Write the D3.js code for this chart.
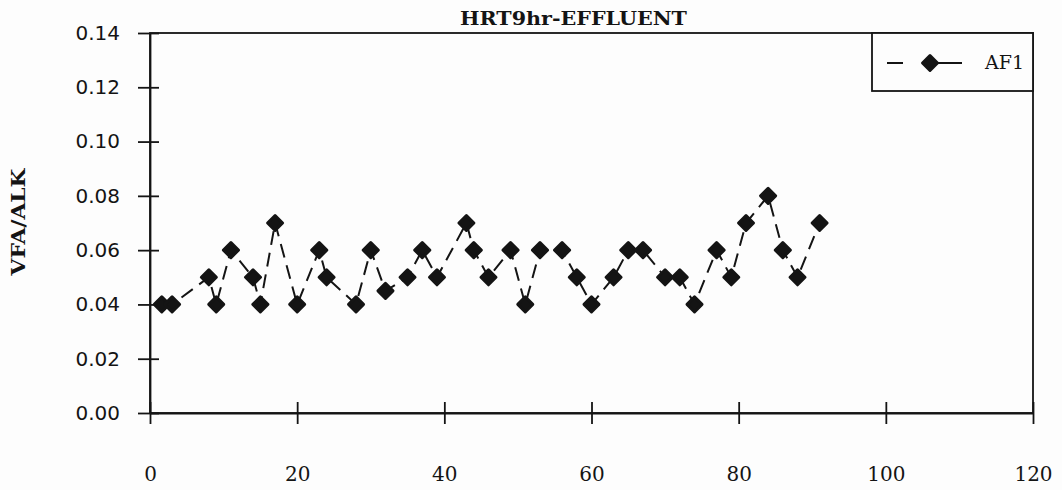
<!DOCTYPE html>
<html>
<head>
<meta charset="utf-8">
<script src="https://cdn.jsdelivr.net/npm/d3@7"></script>
<style>
  html, body { margin: 0; padding: 0; background: #fdfdfd; }
  svg { display: block; }
</style>
</head>
<body>
<svg id="chart" width="1062" height="490"></svg>
<script>
// Effluent VFA/alkalinity ratio, HRT 9 hr, reactor AF1
const days = [1.6, 3, 8, 9, 11, 14, 15, 17, 20, 23, 24, 28, 30, 32, 35, 37, 39,
              43, 44, 46, 49, 51, 53, 56, 58, 60, 63, 65, 67, 70, 72, 74, 77, 79,
              81, 84, 86, 88, 91];
const ratioAF1 = [0.04, 0.04, 0.05, 0.04, 0.06, 0.05, 0.04, 0.07, 0.04, 0.06, 0.05,
                  0.04, 0.06, 0.045, 0.05, 0.06, 0.05, 0.07, 0.06, 0.05, 0.06, 0.04,
                  0.06, 0.06, 0.05, 0.04, 0.05, 0.06, 0.06, 0.05, 0.05, 0.04, 0.06,
                  0.05, 0.07, 0.08, 0.06, 0.05, 0.07];
const xTicks = [0, 20, 40, 60, 80, 100, 120];
const yTicks = [0, 0.02, 0.04, 0.06, 0.08, 0.10, 0.12, 0.14];
const seriesName = "AF1";
const titleText = "HRT9hr-EFFLUENT";
const yLabelText = "VFA/ALK";

const svg = d3.select("#chart");
const plot = { left: 150, right: 1033, top: 33, bottom: 413 };

const x = d3.scaleLinear().domain([0, 120]).range([plot.left, plot.right]);
const y = d3.scaleLinear().domain([0, 0.14]).range([plot.bottom, plot.top]);

const ink = "#141414";

// plot frame
svg.append("rect")
  .attr("x", plot.left).attr("y", plot.top)
  .attr("width", plot.right - plot.left).attr("height", plot.bottom - plot.top)
  .attr("fill", "none").attr("stroke", ink).attr("stroke-width", 1.8);

// y axis: ticks cross the axis line
const yAxis = d3.axisLeft(y).tickValues(yTicks)
  .tickFormat(d3.format(".2f")).tickSizeInner(12).tickSizeOuter(0).tickPadding(18);
svg.append("g").attr("transform", `translate(${plot.left},0)`).call(yAxis)
  .call(g => g.select(".domain").attr("stroke", ink).attr("stroke-width", 1.8))
  .call(g => g.selectAll(".tick line").attr("x1", 9).attr("stroke", ink).attr("stroke-width", 1.8))
  .call(g => g.selectAll(".tick text")
    .attr("fill", ink).attr("font-family", "DejaVu Sans").attr("font-size", 20));

// x axis
const xAxis = d3.axisBottom(x).tickValues(xTicks)
  .tickSizeInner(11).tickSizeOuter(0).tickPadding(43);
svg.append("g").attr("transform", `translate(0,${plot.bottom})`).call(xAxis)
  .call(g => g.select(".domain").attr("stroke", ink).attr("stroke-width", 2))
  .call(g => g.selectAll(".tick line").attr("y1", -11).attr("stroke", ink).attr("stroke-width", 1.8))
  .call(g => g.selectAll(".tick text")
    .attr("fill", ink).attr("font-family", "DejaVu Serif").attr("font-size", 20));

// title
svg.append("text")
  .attr("x", 573.5).attr("y", 25)
  .attr("text-anchor", "middle")
  .attr("font-family", "DejaVu Serif").attr("font-weight", "bold").attr("font-size", 19)
  .attr("textLength", 227).attr("lengthAdjust", "spacingAndGlyphs")
  .attr("fill", ink)
  .text(titleText);

// y label
svg.append("text")
  .attr("transform", "translate(25,222) rotate(-90)")
  .attr("text-anchor", "middle")
  .attr("font-family", "DejaVu Serif").attr("font-weight", "bold").attr("font-size", 18)
  .attr("textLength", 107).attr("lengthAdjust", "spacingAndGlyphs")
  .attr("fill", ink)
  .text(yLabelText);

// series line
const pts = days.map((d, i) => [d, ratioAF1[i]]);
const line = d3.line().x(d => x(d[0])).y(d => y(d[1]));
svg.append("path")
  .datum(pts)
  .attr("d", line)
  .attr("fill", "none").attr("stroke", ink).attr("stroke-width", 2)
  .attr("stroke-dasharray", "14,8");

// diamond markers
const diamond = r => `M0,${-r}L${r},0L0,${r}L${-r},0Z`;
svg.append("g").selectAll("path")
  .data(pts)
  .join("path")
  .attr("transform", d => `translate(${x(d[0])},${y(d[1])})`)
  .attr("d", diamond(7.5))
  .attr("fill", ink).attr("stroke", ink).attr("stroke-width", 3)
  .attr("stroke-linejoin", "round");

// legend
const lg = svg.append("g");
lg.append("rect")
  .attr("x", 872).attr("y", plot.top).attr("width", plot.right - 872).attr("height", 58)
  .attr("fill", "#fdfdfd").attr("stroke", ink).attr("stroke-width", 1.8);
lg.append("line")
  .attr("x1", 887).attr("x2", 903).attr("y1", 63).attr("y2", 63)
  .attr("stroke", ink).attr("stroke-width", 2);
lg.append("line")
  .attr("x1", 930).attr("x2", 962).attr("y1", 63).attr("y2", 63)
  .attr("stroke", ink).attr("stroke-width", 2);
lg.append("path")
  .attr("transform", "translate(930,63)")
  .attr("d", diamond(7.5))
  .attr("fill", ink).attr("stroke", ink).attr("stroke-width", 3)
  .attr("stroke-linejoin", "round");
lg.append("text")
  .attr("x", 985).attr("y", 69)
  .attr("font-family", "DejaVu Serif").attr("font-size", 19)
  .attr("fill", ink)
  .text(seriesName);
</script>
</body>
</html>
